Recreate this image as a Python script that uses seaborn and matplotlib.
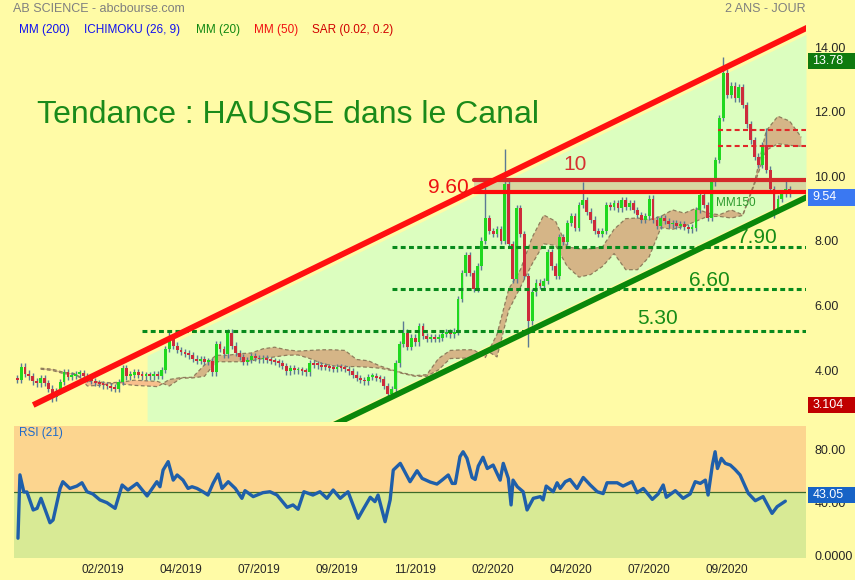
import numpy as np
import matplotlib
matplotlib.use("Agg")
import matplotlib.pyplot as plt
import matplotlib.transforms as mtransforms
from matplotlib.patches import Rectangle
import seaborn as sns

# --- data (one bar every ~2.5 sessions) ---
closes = [
    3.78, 4.20, 3.98, 3.90, 3.74, 3.68, 3.84, 3.70, 3.52, 3.25,
    3.45, 3.72, 4.02, 3.88, 3.92, 3.96, 4.00, 3.90, 3.82, 3.76,
    3.70, 3.66, 3.62, 3.60, 3.55, 3.50, 3.72, 4.15, 3.90, 3.95,
    4.02, 3.95, 3.90, 3.93, 3.90, 3.95, 3.92, 4.10, 4.75, 5.10,
    4.85, 4.72, 4.65, 4.60, 4.55, 4.45, 4.38, 4.42, 4.35, 4.38,
    4.02, 4.90, 4.75, 4.58, 5.25, 4.85, 4.62, 4.50, 4.35, 4.40,
    4.52, 4.46, 4.42, 4.45, 4.40, 4.38, 4.34, 4.30, 4.22, 4.05,
    4.15, 4.08, 4.10, 4.05, 4.02, 4.30, 4.26, 4.24, 4.20, 4.18,
    4.15, 4.12, 4.18, 4.15, 4.12, 4.05, 3.95, 3.85, 3.78, 3.74,
    3.88, 3.90, 3.85, 3.82, 3.60, 3.35, 3.50, 4.30, 4.90, 5.25,
    4.80, 5.10, 4.95, 5.45, 5.15, 5.05, 5.12, 5.05, 5.10, 5.22,
    5.25, 5.20, 5.28, 6.30, 7.10, 7.65, 7.10, 6.60, 7.30, 8.10,
    8.80, 8.40, 8.30, 8.45, 8.10, 9.85, 8.00, 6.90, 9.10, 8.30,
    7.00, 5.60, 6.50, 6.80, 6.70, 6.85, 7.75, 7.30, 7.00, 8.20,
    8.05, 8.65, 8.85, 8.50, 9.20, 9.35, 9.00, 8.75, 8.40, 8.30,
    8.40, 9.20, 9.15, 9.25, 9.10, 9.35, 9.15, 9.25, 9.05, 8.90,
    8.75, 8.85, 9.40, 8.75, 8.55, 8.80, 8.70, 8.60, 8.65, 8.55,
    8.60, 8.52, 8.45, 8.50, 9.05, 9.50, 9.20, 8.80, 9.90, 10.60,
    11.90, 13.30, 12.60, 12.90, 12.50, 12.85, 12.30, 11.70, 11.20, 10.70,
    10.45, 11.05, 10.30, 9.70, 9.05, 9.40, 9.55, 9.70, 9.54,
]
first_open = 3.85
wick_high = {1: 4.30, 39: 5.30, 55: 5.35, 99: 5.62, 120: 9.75, 125: 10.95,
             145: 9.90, 162: 9.50, 181: 13.78, 192: 11.60, 197: 10.05}
wick_low = {9: 3.104, 131: 4.80, 194: 8.80}

# ichimoku spans (every 3 bars)
cloud_idx = list(range(6, 202, 3))
span_a = [4.15, 4.12, 4.02, 3.98, 3.60, 3.62, 3.67, 3.66, 3.62, 3.60, 3.58, 3.80,
          3.86, 3.87, 4.25, 4.55, 4.55, 4.60, 4.62, 4.75, 4.80, 4.72, 4.68, 4.70,
          4.72, 4.72, 4.70, 4.42, 4.38, 4.22, 4.10, 4.00, 3.92, 3.95, 4.45, 4.70,
          4.72, 4.72, 4.48, 5.20, 6.60, 7.20, 8.20, 8.89, 8.70, 7.90, 7.85, 7.85,
          7.90, 8.45, 8.78, 8.80, 8.75, 8.85, 9.05, 8.95, 9.10, 8.95, 8.90, 9.05,
          8.90, 9.90, 11.50, 11.95, 11.80, 11.30]
span_b = [4.12, 4.08, 3.98, 3.95, 3.75, 3.72, 3.70, 3.72, 3.78, 3.76, 3.74, 3.60,
          3.84, 3.85, 3.90, 4.35, 4.35, 4.35, 4.38, 4.45, 4.50, 4.55, 4.56, 4.45,
          4.30, 4.22, 4.20, 4.20, 4.18, 4.15, 4.08, 3.98, 3.90, 3.90, 4.10, 4.45,
          4.46, 4.47, 4.72, 4.50, 5.95, 6.66, 7.38, 8.00, 7.95, 7.30, 6.97, 7.05,
          7.30, 7.70, 7.20, 7.20, 7.60, 8.50, 8.45, 8.55, 8.70, 8.85, 8.85, 8.80,
          8.88, 9.85, 10.90, 11.10, 11.05, 11.02]

rsi_idx = [0.2, 0.7, 1.7, 2.5, 4.1, 5.1, 6.1, 8.4, 9.2, 11.0, 11.7, 13.5, 15.3, 16.6,
           17.9, 19.4, 21.2, 23.0, 25.1, 26.9, 28.4, 30.7, 33.3, 35.8, 36.6, 37.4,
           38.7, 40.0, 41.0, 42.5, 43.8, 44.8, 46.1, 47.6, 48.9, 50.2, 51.5, 52.5,
           54.1, 55.9, 57.6, 58.4, 60.5, 63.0, 64.8, 66.6, 69.2, 70.7, 72.0, 73.5,
           75.8, 77.6, 79.4, 81.0, 82.8, 84.8, 86.1, 87.4, 88.7, 90.5, 91.7, 92.5,
           94.3, 95.6, 96.4, 98.2, 100.7, 102.5, 103.8, 105.9, 107.6, 108.9, 110.5,
           111.5, 112.3, 113.5, 114.3, 115.3, 116.6, 117.4, 118.2, 119.4, 120.5,
           122.0, 123.8, 124.6, 125.9, 126.6, 127.1, 128.2, 129.7, 130.7, 132.3,
           134.1, 134.8, 135.6, 137.4, 138.4, 139.2, 140.5, 141.7, 143.5, 145.1,
           146.9, 148.7, 150.2, 151.2, 153.8, 155.3, 157.6, 158.9, 160.5, 162.8,
           164.3, 165.6, 166.4, 168.7, 170.7, 172.5, 173.8, 175.1, 176.4, 177.1,
           178.2, 178.9, 179.5, 180.5, 181.5, 182.8, 184.0, 185.3, 187.4, 189.2,
           191.2, 193.5, 194.8, 196.9]
rsi_val = [15, 63, 50, 50, 36.4, 37.6, 45.2, 26.7, 28.8, 52.7, 57.8, 52.7, 54.5, 57,
           50.2, 48.5, 44, 41.9, 37.6, 55.3, 51.5, 56.5, 47, 57.8, 54, 66.6,
           73, 59, 62.9, 59, 52.7, 54, 52.7, 50.2, 47.7, 56.5, 63.6, 52.7,
           57.8, 52.7, 45.2, 51, 46.5, 49.5, 50.2, 47.7, 38.4, 40.2, 36.9, 50.2,
           47.7, 50.2, 45.2, 51.5, 45.2, 50.2, 40.2, 30.1, 36.9, 46, 42.7, 47.7,
           27.5, 44, 66.6, 71.7, 57.8, 66.1, 60.3, 57.5, 56, 59, 62.9,
           56.5, 56.5, 76.8, 80.5, 75.5, 61, 59.5, 69.7, 76.3, 67.8,
           70.4, 59, 71.7, 60.3, 40.2, 59, 54, 50.2, 36.4, 45.2,
           46.5, 44, 54.5, 50.2, 57, 52.7, 57.8, 59.5, 52.7, 61,
           55.3, 50.2, 48.8, 57, 57, 54.5, 57.8, 49.5, 52.7, 44.4,
           48.5, 55.3, 46, 51, 45.2, 48.5, 57.8, 56.5, 59, 47.7,
           70.4, 80.5, 67.8, 75.5, 71.7, 70.4, 67.1, 62.9, 49, 43.4,
           46.5, 33.8, 38.9, 43.05]

tick_idx = [22, 42, 62, 82, 102, 122, 142, 162, 182]
tick_lab = ["02/2019", "04/2019", "07/2019", "09/2019", "11/2019",
            "02/2020", "04/2020", "07/2020", "09/2020"]

# drawn annotations
resist = ([4.1, 202.8], [3.01, 14.71])
support = ([80.2, 202.8], [2.34, 9.47])
zone_top, zone_bot, zone_start = 9.98, 9.59, 117
green_levels = [(7.90, 96), (6.60, 96), (5.30, 32)]
red_dash_levels = [11.52, 11.03]

BG = "#FFFBA6"
sns.set_style("white")
plt.rcParams["font.family"] = ["Liberation Sans", "DejaVu Sans"]

fig = plt.figure(figsize=(8.55, 5.80), dpi=100, facecolor=BG)
ax = fig.add_axes([14 / 855, 1 - 421.5 / 580, 792 / 855, 401.5 / 580], facecolor=BG)
ax2 = fig.add_axes([14 / 855, 1 - 558 / 580, 792 / 855, 132 / 580], facecolor=BG, sharex=ax)
ax.set_xlim(-0.82, 202.2)
ax.set_ylim(2.50, 14.93)

# channel fill
xs = np.linspace(33.3, 202.2, 200)
top = np.polyval(np.polyfit(resist[0], resist[1], 1), xs) - 0.19
bot = np.polyval(np.polyfit(support[0], support[1], 1), xs) + 0.17
bot = np.maximum(bot, 2.5)
ax.fill_between(xs, bot, top, color="#DCFEBF", lw=0, zorder=1)

# resistance zone 9.60 - 10
ax.fill_between([zone_start, 202.2], zone_bot, zone_top, color="#D7D8A2", lw=0, zorder=1.5)

# ichimoku cloud
ci = np.array(cloud_idx)
a = np.array(span_a)
b = np.array(span_b)
ax.fill_between(ci, a, b, where=a >= b, interpolate=True, color="#D5B587", lw=0, zorder=2)
ax.fill_between(ci, a, b, where=a < b, interpolate=True, color="#F8BF8D", lw=0, zorder=2)
ax.plot(ci, a, color="#8E7D5C", lw=0.9, ls=(0, (3, 2)), zorder=2.5)
ax.plot(ci, b, color="#8E7D5C", lw=0.9, ls=(0, (3, 2)), zorder=2.5)

# candles
c = np.array(closes)
o = np.array([first_open] + closes[:-1])
x = np.arange(len(c))
hi = np.maximum(o, c) + 0.1
lo = np.minimum(o, c) - 0.1
for k, v in wick_high.items():
    hi[k] = v
for k, v in wick_low.items():
    lo[k] = v
up = c >= o
ax.vlines(x, lo, hi, color="#5B7A94", lw=1.0, zorder=4)
ax.bar(x, np.maximum(np.abs(c - o), 0.06), bottom=np.minimum(o, c), width=0.72,
       color=np.where(up, "#1FD81F", "#CD2B3B"), lw=0, zorder=5)

# horizontal levels
for lev, start in green_levels:
    ax.plot([start, 202.2], [lev, lev], color="#088A1C", lw=2.2, ls=(0, (1.6, 1.1)), zorder=6)
for lev in red_dash_levels:
    ax.plot([179.7, 202.2], [lev, lev], color="#E02828", lw=1.5, ls=(0, (2.4, 1.6)), zorder=6)
ax.plot([zone_start, 202.2], [zone_top, zone_top], color="#D42A2A", lw=3, zorder=7)
ax.plot([zone_start, 202.2], [zone_bot, zone_bot], color="#FF0A0A", lw=3, zorder=7)

# channel lines
ax.plot(resist[0], resist[1], color="#FF1010", lw=4.2, solid_capstyle="butt", zorder=7)
ax.plot(support[0], support[1], color="#0A870A", lw=4.2, solid_capstyle="butt", zorder=7)

# labels on chart
ax.text(0.029, 0.763, "Tendance : HAUSSE dans le Canal", transform=ax.transAxes,
        fontsize=23, color="#1A8A1A", va="center", ha="left", zorder=8)
ax.text(110.5, 9.73, "9.60", fontsize=15, color="#EE1111", ha="center", va="center", zorder=8)
ax.text(143, 10.47, "10", fontsize=15, color="#D63030", ha="center", va="center", zorder=8)
ax.text(189.8, 8.21, "7.90", fontsize=15, color="#168C16", ha="center", va="center", zorder=8)
ax.text(177.4, 6.85, "6.60", fontsize=15, color="#168C16", ha="center", va="center", zorder=8)
ax.text(164.2, 5.70, "5.30", fontsize=15, color="#168C16", ha="center", va="center", zorder=8)
ax.text(184.3, 9.26, "MM150", fontsize=8.5, color="#2E9B2E", ha="center", va="center", zorder=8)

# right axis
lift = mtransforms.ScaledTranslation(0, 3 / 100, fig.dpi_scale_trans)
ax.yaxis.tick_right()
ax.set_yticks([4, 6, 8, 10, 12, 14])
ax.set_yticklabels(["4.00", "6.00", "8.00", "10.00", "12.00", "14.00"])
ax.tick_params(axis="y", length=0, pad=6, labelsize=9)
ax.tick_params(axis="x", length=0, labelbottom=False)
for lab in ax.get_yticklabels():
    lab.set_transform(lab.get_transform() + lift)
for s in ax.spines.values():
    s.set_visible(False)


def badge(axis, val, text, col, half):
    tr = mtransforms.blended_transform_factory(axis.transAxes, axis.transData)
    axis.add_patch(Rectangle((794 / 792, val - half), 47 / 792, 2 * half, transform=tr,
                             fc=col, ec="none", clip_on=False, zorder=9))
    axis.text(798.5 / 792, val, text, transform=tr, fontsize=9, color="white",
              ha="left", va="center", zorder=10)


for val, lab, col in [(13.66, "13.78", "#0F7A0F"), (9.44, "9.54", "#3A78F2"), (3.01, "3.104", "#C00000")]:
    badge(ax, val, lab, col, 0.26)

# RSI panel
ax2.set_ylim(0, 100)
ax2.axhspan(50, 100, color="#FCD58F", lw=0, zorder=0)
ax2.axhspan(0, 50, color="#D8EA95", lw=0, zorder=0)
ax2.axhline(50, color="#3E6B2A", lw=0.9, zorder=1)
sns.lineplot(x=rsi_idx, y=rsi_val, ax=ax2, color="#1F5FAA", lw=2.4, zorder=3)
ax2.yaxis.tick_right()
ax2.set_yticks([0, 40, 80])
ax2.set_yticklabels(["0.0000", "40.00", "80.00"])
ax2.tick_params(axis="y", length=0, pad=6, labelsize=9)
for lab in ax2.get_yticklabels():
    lab.set_transform(lab.get_transform() + lift)
ax2.set_xticks(tick_idx)
ax2.set_xticklabels(tick_lab)
ax2.tick_params(axis="x", length=0, pad=4.5, labelsize=8.5)
for s in ax2.spines.values():
    s.set_visible(False)
ax2.set_xlabel("")
ax2.set_ylabel("")
badge(ax2, 47.7, "43.05", "#1763C6", 6.2)
ax2.text(5 / 792, 95, "RSI (21)", transform=mtransforms.blended_transform_factory(ax2.transAxes, ax2.transData),
         fontsize=8.5, color="#1E6AC8", ha="left", va="center")

# header
fig.text(13 / 855, 1 - 8.5 / 580, "AB SCIENCE - abcbourse.com", fontsize=9, color="#7F7F7F", va="center")
fig.text(806 / 855, 1 - 8.5 / 580, "2 ANS - JOUR", fontsize=9, color="#7F7F7F", va="center", ha="right")
for px, lab, col in [(19, "MM (200)", "#1010F0"), (84, "ICHIMOKU (26, 9)", "#1010F0"),
                     (196, "MM (20)", "#118811"), (254, "MM (50)", "#F01010"),
                     (312, "SAR (0.02, 0.2)", "#D00000")]:
    fig.text(px / 855, 1 - 29.5 / 580, lab, fontsize=8.5, color=col, va="center", ha="left")

fig.savefig("out.png", dpi=100, facecolor=BG)
